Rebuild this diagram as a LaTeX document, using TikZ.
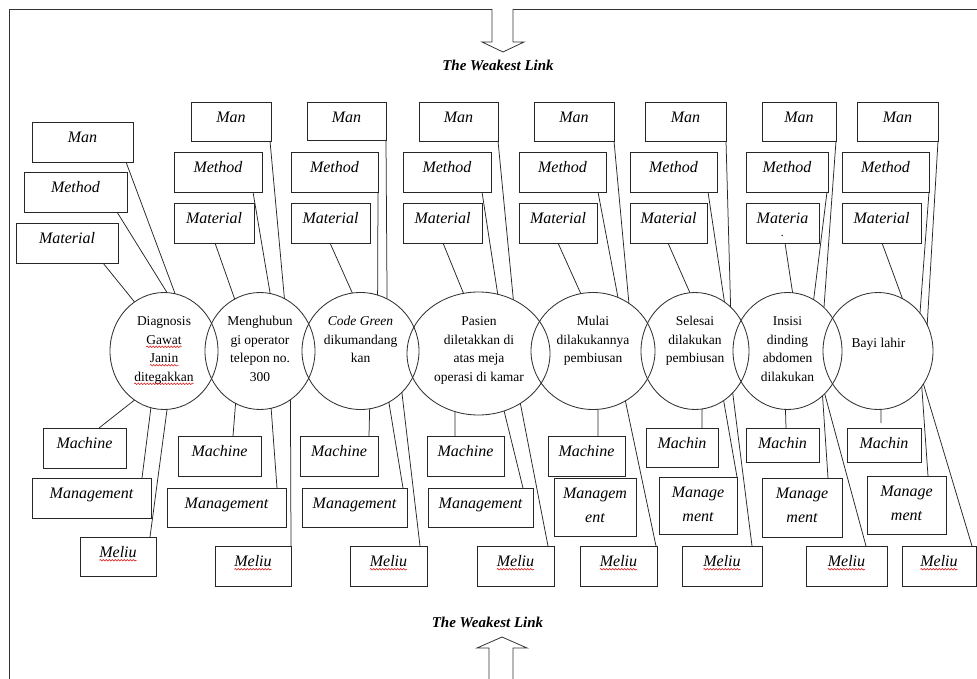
\documentclass[tikz,border=0pt]{standalone}
\usepackage{fontspec}
\setmainfont{Liberation Serif}
\usetikzlibrary{shapes.geometric,decorations.pathmorphing}

\tikzset{
  box/.style={draw=black!85, line width=0.9pt, rectangle, inner sep=0pt, outer sep=0pt},
  lbl/.style={anchor=north, inner sep=0pt, align=center,
              font=\fontsize{16}{23.5}\selectfont\itshape},
  stage/.style={draw=black!80, line width=0.85pt, ellipse, inner sep=0pt, outer sep=0pt},
  stxt/.style={anchor=north, inner sep=0pt, align=center,
               font=\fontsize{13.5}{18.5}\selectfont},
  link/.style={draw=black!85, line width=0.75pt},
  frame/.style={draw=black!80, line width=0.9pt},
  headline/.style={anchor=base, inner sep=0pt, font=\fontsize{15}{18}\selectfont\bfseries\itshape},
  bigarrow/.style={draw=black!80, line width=0.8pt, fill=white},
  wavy/.style={draw=red!85!black, line width=0.5pt, decorate,
               decoration={snake, amplitude=0.8pt, segment length=3pt}},
}

% word with a red spell-check wave below it
\newcommand\spellwave[1]{\tikz[baseline=(sw.base)]{%
  \node[inner sep=0pt, outer sep=0pt, anchor=base] (sw) at (0,0) {#1};
  \draw[wavy] ([yshift=-2.6pt]sw.base west) -- ([yshift=-2.6pt]sw.base east);}}

% factor box: name, left, top, right, bottom, label
\newcommand\catbox[6]{%
  \node[box, minimum width={#4-#2}, minimum height={#5-#3}] (#1) at ({(#2+#4)/2},{(#3+#5)/2}) {};
  \node[lbl] (#1-t) at (#1.north) {\rule{0pt}{20.5pt}#6};}

% process step: name, cx, cy, rx, ry
\newcommand\stepnode[5]{%
  \node[stage, minimum width={2*#4}, minimum height={2*#5}] (#1) at (#2,#3) {};}

\newcommand\meliu{\spellwave{Meliu}}

\begin{document}
\begin{tikzpicture}[x=1pt,y=-1pt]
\useasboundingbox (0,0) rectangle (977,679);
\fill[white] (0,0) rectangle (977,679);

% page frame
\draw[frame] (9,679) -- (9,9) -- (977,9);

% arrows pointing at the weakest link
\draw[bigarrow] (492,9) -- (492,42) -- (482,42) -- (503,52) -- (524,42) -- (513,42) -- (513,9);
\draw[bigarrow] (489,679) -- (489,648) -- (477,648) -- (502,637) -- (527,648) -- (513,648) -- (513,679);
\node[headline] (wl-top) at (498,71) {The Weakest Link};
\node[headline] (wl-bot) at (487.5,627) {The Weakest Link};

% ---- process steps ----
\stepnode{s1}{164}{351}{54}{58.5}
\stepnode{s2}{260}{351}{55}{58.5}
\stepnode{s3}{360.5}{351}{58.5}{58.5}
\stepnode{s4}{478.5}{353.5}{71.5}{61.5}
\stepnode{s5}{593}{351}{62}{58.5}
\stepnode{s6}{695}{351}{54}{58.5}
\stepnode{s7}{787.5}{351}{54.5}{58.5}
\stepnode{s8}{878}{351}{55}{58.5}

\node[stxt] (s1-t) at (164,310) {\rule{0pt}{15.5pt}Diagnosis\\\spellwave{Gawat}\\\spellwave{Janin}\\\spellwave{ditegakkan}};
\node[stxt] (s2-t) at (260,310) {\rule{0pt}{15.5pt}Menghubun\\gi operator\\telepon no.\\300};
\node[stxt] (s3-t) at (360.5,310) {\rule{0pt}{15.5pt}\textit{Code Green}\\dikumandang\\kan};
\node[stxt] (s4-t) at (479,310) {\rule{0pt}{15.5pt}Pasien\\diletakkan di\\atas meja\\operasi di kamar};
\node[stxt] (s5-t) at (593,310) {\rule{0pt}{15.5pt}Mulai\\dilakukannya\\pembiusan};
\node[stxt] (s6-t) at (695,310) {\rule{0pt}{15.5pt}Selesai\\dilakukan\\pembiusan};
\node[stxt] (s7-t) at (787.5,310) {\rule{0pt}{15.5pt}Insisi\\dinding\\abdomen\\dilakukan};
\node[stxt] (s8-t) at (878.5,332) {\rule{0pt}{15pt}Bayi lahir};

% ---- upper factors: Man, Method, Material ----
\catbox{man1}{32}{122}{133}{162}{Man}
\catbox{met1}{24}{172}{127}{212}{Method}
\catbox{mat1}{16}{223}{118}{263}{Material}

\catbox{man2}{191}{102}{271}{141}{Man}
\catbox{met2}{174}{152}{262}{192}{Method}
\catbox{mat2}{174}{203}{254}{243}{Material}

\catbox{man3}{307}{102}{386}{140}{Man}
\catbox{met3}{291}{152}{378}{192}{Method}
\catbox{mat3}{291}{203}{370}{243}{Material}

\catbox{man4}{419}{102}{498}{141}{Man}
\catbox{met4}{403}{152}{491}{192}{Method}
\catbox{mat4}{403}{203}{482}{243}{Material}

\catbox{man5}{534}{102}{614}{141}{Man}
\catbox{met5}{519}{152}{606}{192}{Method}
\catbox{mat5}{519}{203}{597}{243}{Material}

\catbox{man6}{645}{102}{726}{141}{Man}
\catbox{met6}{630}{152}{717}{192}{Method}
\catbox{mat6}{630}{203}{707}{243}{Material}

\catbox{man7}{762}{102}{836}{141}{Man}
\catbox{met7}{746}{152}{828}{192}{Method}
\catbox{mat7}{746}{203}{819}{243}{Materia\\[-11pt]{\fontsize{12}{12}\selectfont .}}

\catbox{man8}{857}{102}{938}{141}{Man}
\catbox{met8}{842}{152}{929}{192}{Method}
\catbox{mat8}{842}{203}{921}{243}{Material}

% ---- lower factors: Machine, Management, Meliu ----
\catbox{mac1}{43}{428}{126}{468}{Machine}
\catbox{mgt1}{32}{478}{151}{518}{Management}
\catbox{mil1}{80}{537}{156}{576}{\meliu}

\catbox{mac2}{178}{436}{261}{476}{Machine}
\catbox{mgt2}{167}{488}{286}{527}{Management}
\catbox{mil2}{215}{546}{291}{586}{\meliu}

\catbox{mac3}{300}{436}{378}{476}{Machine}
\catbox{mgt3}{302}{488}{407}{527}{Management}
\catbox{mil3}{350}{546}{427}{586}{\meliu}

\catbox{mac4}{427}{436}{504}{476}{Machine}
\catbox{mgt4}{428}{488}{533}{527}{Management}
\catbox{mil4}{477}{546}{554}{586}{\meliu}

\catbox{mac5}{548}{436}{625}{476}{Machine}
\catbox{mgt5}{554}{478}{636}{536}{Managem\\ent}
\catbox{mil5}{580}{546}{657}{586}{\meliu}

\catbox{mac6}{646}{428}{718}{467}{Machin}
\catbox{mgt6}{659}{477}{737}{534}{Manage\\ment}
\catbox{mil6}{682}{546}{762}{586}{\meliu}

\catbox{mac7}{746}{428}{819}{462}{Machin}
\catbox{mgt7}{762}{478}{842}{537}{Manage\\ment}
\catbox{mil7}{806}{546}{887}{586}{\meliu}

\catbox{mac8}{847}{428}{921}{462}{Machin}
\catbox{mgt8}{867}{476}{946}{534}{Manage\\ment}
\catbox{mil8}{902}{546}{976}{586}{\meliu}

% ---- connectors, upper side ----
\draw[link] ([xshift=94pt]man1.south west) -- (s1.79);
\draw[link] ([xshift=93pt]met1.south west) -- (s1.87);
\draw[link] ([xshift=87pt]mat1.south west) -- (s1.121);

\draw[link] ([xshift=79pt]man2.south west) -- (s2.65);
\draw[link] ([xshift=79pt]met2.south west) -- (s2.80);
\draw[link] ([xshift=41pt]mat2.south west) -- (s2.116);

\draw[link] (man3.south east) -- (s3.63.5);
\draw[link] (met3.south east) -- (s3.73.5);
\draw[link] ([xshift=39pt]mat3.south west) -- (s3.98);

\draw[link] (man4.south east) -- (s4.57);
\draw[link] ([xshift=79pt]met4.south west) -- (s4.72);
\draw[link] ([xshift=40pt]mat4.south west) -- (s4.104);

\draw[link] (man5.south east) -- (s5.53);
\draw[link] ([xshift=79pt]met5.south west) -- (s5.65);
\draw[link] ([xshift=39pt]mat5.south west) -- (s5.102.6);

\draw[link] (man6.south east) -- (s6.51);
\draw[link] ([xshift=78pt]met6.south west) -- (s6.59.5);
\draw[link] ([xshift=38pt]mat6.south west) -- (s6.95);

\draw[link] (man7.south east) -- (s7.50);
\draw[link] ([xshift=81pt]met7.south west) -- (s7.63);
\draw[link] ([xshift=39pt]mat7.south west) -- (s7.85.6);

\draw[link] (man8.south east) -- (s8.28);
\draw[link] (met8.south east) -- (s8.42);
\draw[link] ([xshift=40pt]mat8.south west) -- (s8.65);

% ---- connectors, lower side ----
\draw[link] (s1.239) -- ([xshift=56pt]mac1.north west);
\draw[link] (s1.257) -- ([xshift=110pt]mgt1.north west);
\draw[link] (s1.273) -- ([xshift=70pt]mil1.north west);

\draw[link] (s2.245) -- ([xshift=55pt]mac2.north west);
\draw[link] (s2.281) -- ([xshift=110pt]mgt2.north west);
\draw[link] (s2.302) -- (mil2.north east);

\draw[link] (s3.279) -- ([xshift=69pt]mac3.north west);
\draw[link] (s3.299) -- ([xshift=101pt]mgt3.north west);
\draw[link] (s3.315) -- ([xshift=70pt]mil3.north west);

\draw[link] (s4.248.5) -- ([xshift=28pt]mac4.north west);
\draw[link] (s4.294) -- ([xshift=95pt]mgt4.north west);
\draw[link] (s4.310) -- ([xshift=71pt]mil4.north west);

\draw[link] (s5.275) -- ([xshift=50pt]mac5.north west);
\draw[link] (s5.303) -- ([xshift=76pt]mil5.north west);

\draw[link] (s6.277) -- ([xshift=56pt]mac6.north west);
\draw[link] (s6.300.5) -- (mgt6.north east);
\draw[link] (s6.312) -- ([xshift=70pt]mil6.north west);

\draw[link] (s7.268.5) -- ([xshift=40pt]mac7.north west);
\draw[link] (s7.308) -- ([xshift=66pt]mgt7.north west);
\draw[link] (s7.311) -- ([xshift=60pt]mil7.north west);

\coordinate (mac8stub) at (881,423);
\draw[link] (s8.273) -- (mac8stub);
\draw[link] (s8.321) -- ([xshift=61pt]mgt8.north west);
\draw[link] (s8.324) -- ([xshift=70pt]mil8.north west);
\end{tikzpicture}
\end{document}
